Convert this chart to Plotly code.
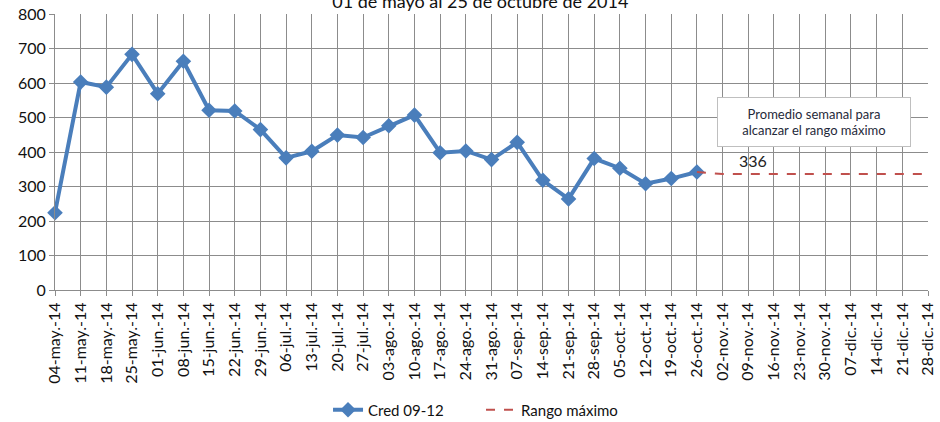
import plotly.graph_objects as go

categories = ["04-may.-14", "11-may.-14", "18-may.-14", "25-may.-14", "01-jun.-14", "08-jun.-14",
              "15-jun.-14", "22-jun.-14", "29-jun.-14", "06-jul.-14", "13-jul.-14", "20-jul.-14",
              "27-jul.-14", "03-ago.-14", "10-ago.-14", "17-ago.-14", "24-ago.-14", "31-ago.-14",
              "07-sep.-14", "14-sep.-14", "21-sep.-14", "28-sep.-14", "05-oct.-14", "12-oct.-14",
              "19-oct.-14", "26-oct.-14", "02-nov.-14", "09-nov.-14", "16-nov.-14", "23-nov.-14",
              "30-nov.-14", "07-dic.-14", "14-dic.-14", "21-dic.-14", "28-dic.-14"]

cred = [224, 603, 588, 683, 569, 663, 521, 519, 465, 383, 402, 449, 442, 476, 507, 398,
        403, 378, 428, 318, 264, 381, 353, 308, 323, 342]

rango = [None] * 25 + [342, 336, 336, 336, 336, 336, 336, 336, 336, 336]

rango_label = "336"
box_text = "Promedio semanal para<br>alcanzar el rango máximo"
title_text = "01 de mayo al 25 de octubre de 2014"

FONT = "Lato, Carlito, 'Liberation Sans', sans-serif"
BLUE = "#4A7EBB"
RED = "#C0504D"
GRID = "#8C8C8C"
TXT = "#111111"

fig = go.Figure()
fig.add_trace(go.Scatter(
    x=categories[:len(cred)], y=cred, name="Cred 09-12", mode="lines+markers",
    line=dict(color=BLUE, width=4), marker=dict(symbol="diamond", size=12, color=BLUE),
    cliponaxis=False))
fig.add_trace(go.Scatter(
    x=categories, y=rango, name="Rango máximo", mode="lines",
    line=dict(color=RED, width=2, dash="dash"), connectgaps=False))

fig.add_annotation(x=categories[27], y=rango[27], text=rango_label, showarrow=False,
                   yshift=14, xshift=5, font=dict(family=FONT, size=16, color="#222222"))
fig.add_annotation(xref="paper", yref="paper", x=0.869, y=0.61, xanchor="center", yanchor="middle",
                   text=box_text, showarrow=False,
                   width=190, height=46, borderpad=1, borderwidth=1, bordercolor="#BFBFBF",
                   bgcolor="white", font=dict(family=FONT, size=13, color="#1F2A3A"), align="center")

fig.update_layout(
    width=940, height=422,
    margin=dict(l=55, r=12, t=14, b=132, autoexpand=False),
    paper_bgcolor="white", plot_bgcolor="white",
    font=dict(family=FONT, size=15, color=TXT),
    title=dict(text=title_text, x=0.511, xanchor="center", y=0.997, yanchor="middle",
               font=dict(family=FONT, size=18, color=TXT)),
    showlegend=True,
    legend=dict(orientation="h", x=0.488, xanchor="center", y=-0.435, yanchor="middle",
                entrywidth=108, entrywidthmode="pixels",
                font=dict(family=FONT, size=15, color=TXT)),
)
fig.update_xaxes(type="category", categoryorder="array", categoryarray=categories,
                 range=[0, len(categories) - 1], tickangle=-90, showgrid=True, gridcolor=GRID,
                 gridwidth=1, showline=True, linecolor=GRID, ticks="outside", ticklen=5,
                 tickcolor=GRID, automargin=False, tickfont=dict(family=FONT, size=16, color=TXT))
fig.update_yaxes(range=[0, 800], dtick=100, showgrid=True, gridcolor=GRID, gridwidth=1,
                 showline=True, linecolor=GRID, ticks="outside", ticklen=5, tickcolor=GRID,
                 zeroline=False, automargin=False, tickfont=dict(family=FONT, size=16, color=TXT))

fig.write_html("out.html", config={"displayModeBar": False},
               post_script="document.body.style.margin='0';document.body.style.overflow='hidden';")
